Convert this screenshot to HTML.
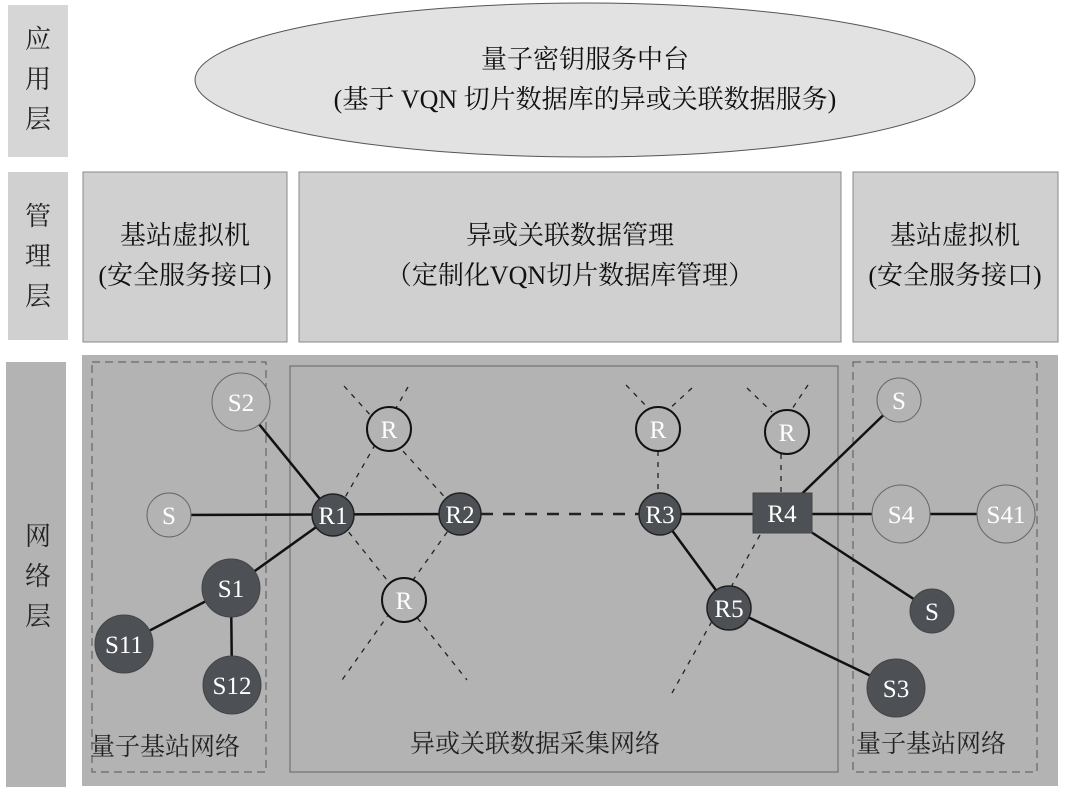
<!DOCTYPE html>
<html><head><meta charset="utf-8"><style>
body{margin:0;background:#fff}
svg text{font-family:"Liberation Serif","Noto Serif CJK SC",serif}
</style></head><body>
<svg width="1066" height="793" viewBox="0 0 1066 793" xmlns="http://www.w3.org/2000/svg">
<rect x="8" y="5" width="60" height="152" fill="#d6d6d6"/>
<rect x="8" y="172" width="60" height="168" fill="#d0d0d0"/>
<rect x="6" y="362" width="60" height="425" fill="#b3b3b3"/>
<g font-size="26" fill="#222" text-anchor="middle" font-family="Noto Sans CJK SC">
<text x="38" y="48">应</text><text x="38" y="88">用</text><text x="38" y="128">层</text>
<text x="38" y="225">管</text><text x="38" y="265">理</text><text x="38" y="305">层</text>
<text x="38" y="545">网</text><text x="38" y="585">络</text><text x="38" y="625">层</text>
</g>
<ellipse cx="585" cy="80" rx="390" ry="77" fill="#e2e2e2" stroke="#555"/>
<text x="585" y="68" font-size="26" text-anchor="middle" fill="#111">量子密钥服务中台</text>
<text x="585" y="108" font-size="26" text-anchor="middle" fill="#111">(基于 VQN 切片数据库的异或关联数据服务)</text>
<rect x="83" y="172" width="204" height="170" fill="#d0d0d0" stroke="#888"/>
<rect x="299" y="172" width="542" height="170" fill="#d0d0d0" stroke="#888"/>
<rect x="853" y="172" width="205" height="170" fill="#d0d0d0" stroke="#888"/>
<g font-size="26" text-anchor="middle" fill="#111">
<text x="185" y="244">基站虚拟机</text><text x="185" y="284">(安全服务接口)</text>
<text x="570" y="244">异或关联数据管理</text><text x="570" y="284">（定制化VQN切片数据库管理）</text>
<text x="955" y="244">基站虚拟机</text><text x="955" y="284">(安全服务接口)</text>
</g>
<rect x="82" y="355" width="976" height="431" fill="#b3b3b3"/>
<rect x="92" y="362" width="174" height="410" fill="none" stroke="#555" stroke-dasharray="8,5"/>
<rect x="290" y="366" width="548" height="406" fill="none" stroke="#666"/>
<rect x="853" y="362" width="184" height="410" fill="none" stroke="#555" stroke-dasharray="8,5"/>
<g stroke="#222" stroke-width="1.3" stroke-dasharray="5,6" fill="none">
<line x1="344" y1="386" x2="460" y2="514"/><line x1="408" y1="387" x2="335" y2="515"/>
<line x1="335" y1="515" x2="467" y2="680"/><line x1="460" y1="514" x2="342" y2="680"/>
<line x1="626" y1="385" x2="650" y2="410"/><line x1="692" y1="388" x2="668" y2="410"/>
<line x1="658" y1="451" x2="658" y2="493"/>
<line x1="747" y1="388" x2="772" y2="412"/><line x1="808" y1="385" x2="790" y2="412"/>
<line x1="781" y1="454" x2="781" y2="493"/>
<line x1="760" y1="535" x2="672" y2="693"/>
</g>
<line x1="481" y1="514" x2="640" y2="514" stroke="#222" stroke-width="2.5" stroke-dasharray="12,10"/>
<g stroke="#111" stroke-width="2.5">
<line x1="241" y1="402" x2="333" y2="515"/><line x1="169" y1="515" x2="460" y2="514"/>
<line x1="231" y1="588" x2="333" y2="515"/><line x1="124" y1="644" x2="231" y2="588"/>
<line x1="232" y1="685" x2="231" y2="588"/>
<line x1="660" y1="514" x2="1006" y2="514"/><line x1="660" y1="514" x2="729" y2="608"/>
<line x1="729" y1="608" x2="896" y2="688"/><line x1="899" y1="400" x2="782" y2="513"/>
<line x1="782" y1="513" x2="932" y2="611"/>
</g>
<g fill="#b3b3b3" stroke="#666" stroke-width="1">
<circle cx="241" cy="402" r="29"/><circle cx="169" cy="515" r="22"/>
<circle cx="899" cy="400" r="22"/><circle cx="901" cy="514" r="29"/><circle cx="1006" cy="514" r="29"/>
</g>
<g fill="#b3b3b3" stroke="#111" stroke-width="2">
<circle cx="389" cy="429" r="22"/><circle cx="404" cy="600" r="22"/>
<circle cx="658" cy="429" r="22"/><circle cx="787" cy="432" r="22"/>
</g>
<g fill="#4d5055" stroke="#222" stroke-width="1.5">
<circle cx="333" cy="515" r="21"/><circle cx="460" cy="514" r="21"/><circle cx="660" cy="514" r="21"/>
<circle cx="729" cy="608" r="22"/>
</g>
<g fill="#4d5055" stroke="#444">
<circle cx="231" cy="588" r="29"/><circle cx="124" cy="644" r="29"/><circle cx="232" cy="685" r="29"/>
<circle cx="932" cy="611" r="22"/><circle cx="896" cy="688" r="29"/>
<rect x="753" y="493" width="59" height="40"/>
</g>
<g font-size="25" fill="#fff" text-anchor="middle">
<text x="241" y="411">S2</text><text x="169" y="524">S</text><text x="333" y="524">R1</text>
<text x="460" y="523">R2</text><text x="660" y="523">R3</text><text x="782" y="522">R4</text>
<text x="729" y="617">R5</text><text x="389" y="438">R</text><text x="404" y="609">R</text>
<text x="658" y="438">R</text><text x="787" y="441">R</text>
<text x="231" y="597">S1</text><text x="124" y="653">S11</text><text x="232" y="694">S12</text>
<text x="899" y="409">S</text><text x="901" y="523">S4</text><text x="1006" y="523">S41</text>
<text x="932" y="620">S</text><text x="896" y="697">S3</text>
</g>
<g font-size="25" fill="#222" font-family="Noto Sans CJK SC">
<text x="90" y="755">量子基站网络</text>
<text x="410" y="752">异或关联数据采集网络</text>
<text x="856" y="752">量子基站网络</text>
</g>
</svg>
</body></html>
